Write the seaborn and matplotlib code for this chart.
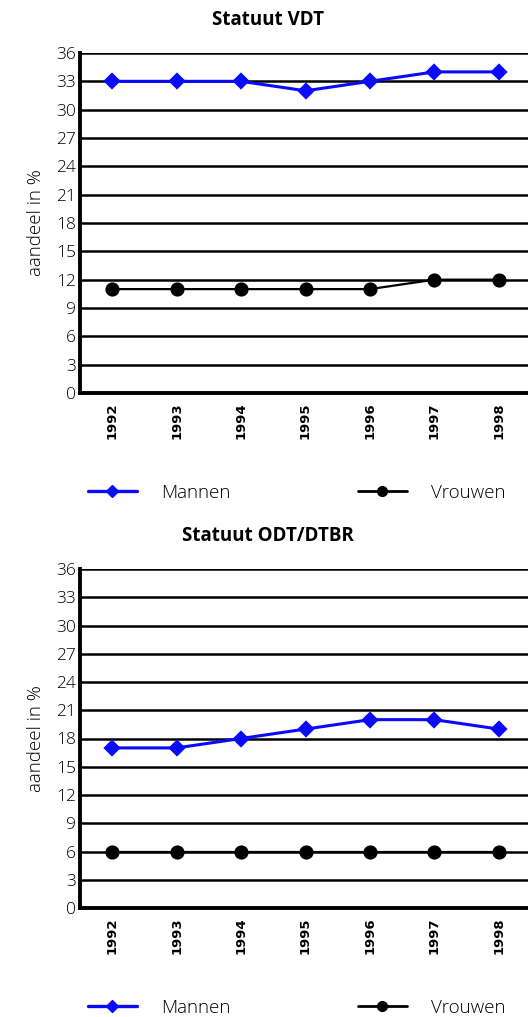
import seaborn as sns
import matplotlib.pyplot as plt
import pandas as pd
from matplotlib.lines import Line2D

years = ['1992', '1993', '1994', '1995', '1996', '1997', '1998']
vdt_mannen = [33, 33, 33, 32, 33, 34, 34]
vdt_vrouwen = [11, 11, 11, 11, 11, 12, 12]
odt_mannen = [17, 17, 18, 19, 20, 20, 19]
odt_vrouwen = [6, 6, 6, 6, 6, 6, 6]
titles = ['Statuut VDT', 'Statuut ODT/DTBR']
yticks = list(range(0, 37, 3))

sns.set_theme(style='white')
plt.rcParams['font.family'] = ['Open Sans', 'DejaVu Sans']
plt.rcParams.update({'text.color': 'black', 'axes.labelcolor': 'black',
                     'xtick.color': 'black', 'ytick.color': 'black'})

fig = plt.figure(figsize=(5.28, 10.17), dpi=100)
W, H = 528, 1017
boxes = [(80, 53, 393), (80, 569, 908)]
panels = [(vdt_mannen, vdt_vrouwen), (odt_mannen, odt_vrouwen)]

for (left, top, bottom), (mannen, vrouwen), title in zip(boxes, panels, titles):
    ax = fig.add_axes([left / W, 1 - bottom / H, (531 - left) / W, (bottom - top) / H])
    df = pd.DataFrame({'jaar': years, 'Mannen': mannen, 'Vrouwen': vrouwen})
    for y in yticks[1:]:
        ax.axhline(y, color='black', lw=1.8, zorder=0)
    sns.pointplot(data=df, x='jaar', y='Vrouwen', color='black', marker='o',
                  markersize=9, linewidth=1.6, ax=ax, zorder=3)
    sns.pointplot(data=df, x='jaar', y='Mannen', color='#0a0aff', marker='D',
                  markersize=7, linewidth=2.2, ax=ax, zorder=4)
    ax.set_xlim(-0.5, 6.5)
    ax.set_ylim(0, 36)
    ax.set_yticks(yticks)
    ax.set_yticklabels([str(v) for v in yticks], fontsize=12.5, fontweight='light')
    ax.set_xticks([i + 0.5 for i in range(6)], minor=True)
    ax.set_xticks(range(7))
    ax.set_xticklabels(years, rotation=90, fontsize=9.5, fontweight='bold',
                       family='DejaVu Sans')
    ax.tick_params(axis='x', which='major', length=0, pad=7)
    ax.tick_params(axis='x', which='minor', length=3, width=1.5, color='black', direction='out')
    ax.tick_params(axis='y', length=0, pad=3)
    ax.set_xlabel('')
    ax.set_ylabel('aandeel in %', fontsize=13.5, fontweight='light', labelpad=8)
    for s in ['top', 'right']:
        ax.spines[s].set_visible(False)
    for s in ['left', 'bottom']:
        ax.spines[s].set_color('black')
        ax.spines[s].set_linewidth(2.8)
    fig.text(268 / W, 1 - (top - 33) / H, title, ha='center', va='center',
             fontsize=13.5, fontweight='bold')
    leg_y = 1 - (bottom + 100) / H
    handles = [Line2D([], [], color='#0a0aff', marker='D', markersize=6, lw=2.4),
               Line2D([], [], color='black', marker='o', markersize=7, lw=2)]
    leg = fig.legend(handles, ['Mannen', 'Vrouwen'], loc='center left',
                     bbox_to_anchor=(71 / W, leg_y), ncol=2, frameon=False,
                     fontsize=13.5, handlelength=2.6, columnspacing=6.8, handletextpad=1.3)
    for t in leg.get_texts():
        t.set_fontweight('light')

fig.savefig('out.png', dpi=100)
